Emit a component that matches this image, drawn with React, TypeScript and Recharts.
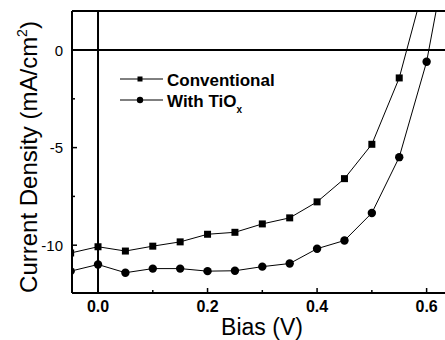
import React from 'react';
import { Legend, Line, LineChart, ReferenceLine, XAxis, YAxis } from 'recharts';

// Bias (V)
const bias = [-0.05, 0, 0.05, 0.1, 0.15, 0.2, 0.25, 0.3, 0.35, 0.4, 0.45, 0.5, 0.55, 0.6, 0.65];
// Current density (mA/cm2)
const conventional = [-10.4, -10.08, -10.3, -10.05, -9.83, -9.44, -9.34, -8.91, -8.6, -7.78, -6.59, -4.83, -1.43, 3.8, null];
const withTiOx = [-11.33, -10.99, -11.41, -11.2, -11.2, -11.33, -11.31, -11.1, -10.94, -10.18, -9.76, -8.35, -5.49, -0.6, 6.9];

const xTicks = [0, 0.1, 0.2, 0.3, 0.4, 0.5, 0.6];
const xLabels = [0, 0.2, 0.4, 0.6];
const yTicks = [-10, -7.5, -5, -2.5, 0];
const yLabels = [-10, -5, 0];

const data = bias.map((b, i) => ({ bias: b, conventional: conventional[i], tiox: withTiOx[i] }));

const XTick = (props: any) => {
  const { x, y, payload } = props;
  const major = xLabels.some(v => Math.abs(v - payload.value) < 1e-6);
  return (
    <g>
      <line x1={x} x2={x} y1={y} y2={y - (major ? 5 : 3)} stroke="#000" strokeWidth={1.5} />
      {major && (
        <text x={x} y={y + 19} textAnchor="middle" fontSize={16} fontWeight="bold"
          fontFamily="Liberation Sans, Arial, sans-serif" fill="#000">
          {payload.value.toFixed(1)}
        </text>
      )}
    </g>
  );
};

const YTick = (props: any) => {
  const { x, y, payload } = props;
  const major = yLabels.includes(payload.value);
  return (
    <g>
      <line x1={x} x2={x + (major ? 5 : 3)} y1={y} y2={y} stroke="#000" strokeWidth={1.5} />
      {major && (
        <text x={x - 9} y={y + 5.5} textAnchor="end" fontSize={15}
          fontFamily="Liberation Sans, Arial, sans-serif" fill="#000">
          {String(payload.value)}
        </text>
      )}
    </g>
  );
};

const SquareDot = (props: any) => {
  const { cx, cy, index } = props;
  if (cx == null || cy == null) return <g key={`s-${index}`} />;
  return <rect key={`s-${index}`} x={cx - 3.5} y={cy - 3.5} width={7} height={7} fill="#000" />;
};

const CircleDot = (props: any) => {
  const { cx, cy, index } = props;
  if (cx == null || cy == null) return <g key={`c-${index}`} />;
  return <circle key={`c-${index}`} cx={cx} cy={cy} r={4.2} fill="#000" />;
};

const legendFont = 'Liberation Sans, Arial, sans-serif';

const renderLegend = () => (
  <svg width={170} height={50} style={{ display: 'block' }}>
    <line x1={2} x2={45} y1={14} y2={14} stroke="#000" strokeWidth={1} />
    <rect x={19.5} y={11.5} width={5} height={5} fill="#000" />
    <text x={49} y={20.5} fontSize={17} fontWeight="bold" fontFamily={legendFont} fill="#000">Conventional</text>
    <line x1={2} x2={45} y1={35} y2={35} stroke="#000" strokeWidth={1} />
    <circle cx={22} cy={35} r={3.2} fill="#000" />
    <text x={49} y={41.5} fontSize={17} fontWeight="bold" fontFamily={legendFont} fill="#000">
      With TiO<tspan fontSize={10} dy={6}>x</tspan>
    </text>
  </svg>
);

export default function App() {
  return (
    <div style={{ position: 'absolute', left: 0, top: 0, width: 445, height: 340, overflow: 'hidden', background: '#fff' }}>
      <LineChart width={454} height={340} data={data} margin={{ top: 11, right: 0, bottom: 0, left: 0 }}>
        <XAxis
          dataKey="bias"
          type="number"
          domain={[-0.0475, 0.65]}
          allowDataOverflow
          ticks={xTicks}
          tick={<XTick />}
          tickLine={false}
          tickSize={0}
          tickMargin={0}
          height={47}
          axisLine={{ stroke: '#000', strokeWidth: 2 }}
          interval={0}
        />
        <YAxis
          type="number"
          domain={[-12.45, 2]}
          allowDataOverflow
          ticks={yTicks}
          tick={<YTick />}
          tickLine={false}
          tickSize={0}
          tickMargin={0}
          width={72}
          axisLine={{ stroke: '#000', strokeWidth: 2 }}
          interval={0}
        />
        <ReferenceLine y={2} stroke="#000" strokeWidth={2} />
        <ReferenceLine y={0} stroke="#000" strokeWidth={2} />
        <ReferenceLine x={0} stroke="#000" strokeWidth={2} />
        <Line
          dataKey="conventional"
          name="Conventional"
          type="linear"
          stroke="#000"
          strokeWidth={1}
          dot={<SquareDot />}
          activeDot={false}
          isAnimationActive={false}
        />
        <Line
          dataKey="tiox"
          name="With TiOx"
          type="linear"
          stroke="#000"
          strokeWidth={1}
          dot={<CircleDot />}
          activeDot={false}
          isAnimationActive={false}
        />
        <Legend
          layout="vertical"
          align="center"
          verticalAlign="middle"
          content={renderLegend}
          wrapperStyle={{ position: 'absolute', left: 118, top: 65, width: 170, height: 50 }}
        />
        <text x={262} y={335} textAnchor="middle" fontSize={23} fontFamily="Liberation Sans, Arial, sans-serif" fill="#000">
          Bias (V)
        </text>
        <text
          x={37}
          y={157}
          transform="rotate(-90 37 157)"
          textAnchor="middle"
          fontSize={24}
          fontFamily="Liberation Sans, Arial, sans-serif"
          fill="#000"
        >
          Current Density (mA/cm<tspan fontSize={14} dy={-10}>2</tspan><tspan dy={10}>)</tspan>
        </text>
      </LineChart>
    </div>
  );
}
